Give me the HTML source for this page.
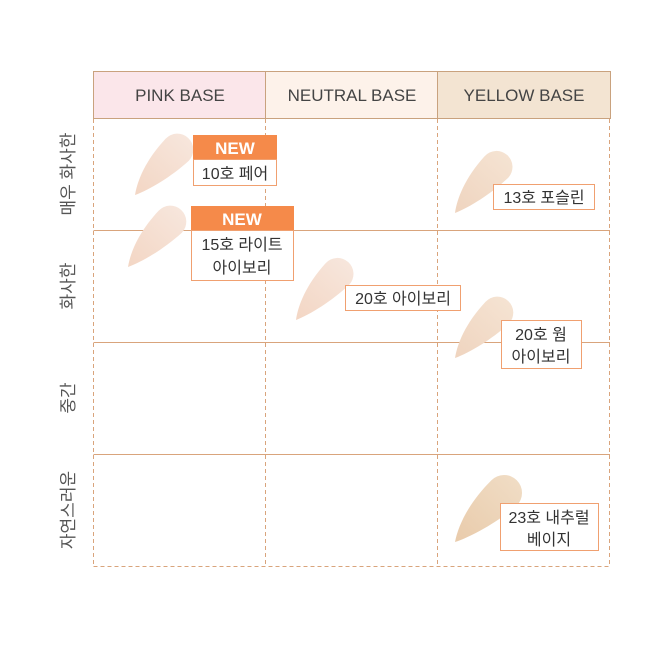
<!DOCTYPE html>
<html><head><meta charset="utf-8"><style>
body{margin:0;background:#fff;}
svg{display:block;font-family:"Liberation Sans","Noto Sans CJK KR",sans-serif;}
</style></head><body>
<svg width="670" height="670" viewBox="0 0 670 670" xmlns="http://www.w3.org/2000/svg">
<defs>
<linearGradient id="g1" x1="0" y1="0" x2="1" y2="0"><stop offset="0" stop-color="#f3d6c4"/><stop offset="1" stop-color="#f7e6dc"/></linearGradient>
<linearGradient id="g2" x1="0" y1="0" x2="1" y2="0"><stop offset="0" stop-color="#efd4bf"/><stop offset="1" stop-color="#f5e3d2"/></linearGradient>
<linearGradient id="g3" x1="0" y1="0" x2="1" y2="0"><stop offset="0" stop-color="#e9cbab"/><stop offset="1" stop-color="#f0dcc4"/></linearGradient>
<path id="sw" d="M0,0 C12,-8 32,-16 62,-16 A16,16 0 0 1 62,16 C38,14 14,7 0,0 Z"/>
</defs>
<rect x="93.5" y="71.5" width="172" height="47" fill="#fbe6ea" stroke="#c9a27e"/>
<rect x="265.5" y="71.5" width="172" height="47" fill="#fdf2ea" stroke="#c9a27e"/>
<rect x="437.5" y="71.5" width="173" height="47" fill="#f3e4d2" stroke="#c9a27e"/>
<g font-size="17" fill="#444" text-anchor="middle">
<text x="180" y="101">PINK BASE</text>
<text x="352" y="101">NEUTRAL BASE</text>
<text x="524" y="101">YELLOW BASE</text>
</g>
<g stroke="#d9a47c" stroke-width="1">
<line x1="93.5" y1="230.5" x2="610" y2="230.5"/>
<line x1="93.5" y1="342.5" x2="610" y2="342.5"/>
<line x1="93.5" y1="454.5" x2="610" y2="454.5"/>
</g>
<g stroke="#d9a47c" stroke-width="1" stroke-dasharray="4,3">
<line x1="93.5" y1="119" x2="93.5" y2="566"/>
<line x1="265.5" y1="119" x2="265.5" y2="566"/>
<line x1="437.5" y1="119" x2="437.5" y2="566"/>
<line x1="609.5" y1="119" x2="609.5" y2="566"/>
<line x1="93.5" y1="566.5" x2="610" y2="566.5"/>
</g>
<g font-size="17" fill="#555" text-anchor="middle">
<text transform="translate(74,174) rotate(-90)">매우 화사한</text>
<text transform="translate(74,286) rotate(-90)">화사한</text>
<text transform="translate(74,398) rotate(-90)">중간</text>
<text transform="translate(74,510) rotate(-90)">자연스러운</text>
</g>
<use href="#sw" fill="url(#g1)" transform="translate(135,195) rotate(-47)"/>
<use href="#sw" fill="url(#g1)" transform="translate(128,267) rotate(-47)"/>
<use href="#sw" fill="url(#g1)" transform="translate(296,320) rotate(-48)"/>
<use href="#sw" fill="url(#g2)" transform="translate(455,213) rotate(-48)"/>
<use href="#sw" fill="url(#g2)" transform="translate(455,358) rotate(-47)"/>
<use href="#sw" fill="url(#g3)" transform="translate(455,542) rotate(-45) scale(1.12)"/>
<g font-size="16" fill="#333" text-anchor="middle">
<rect x="193" y="135" width="84" height="24" fill="#f58a4a"/>
<text x="235" y="154" fill="#fff" font-weight="bold" font-size="17">NEW</text>
<rect x="193.5" y="159.5" width="83" height="26" fill="#fff" stroke="#f0a070"/>
<text x="235" y="179">10호 페어</text>
<rect x="191" y="206" width="103" height="24" fill="#f58a4a"/>
<text x="242" y="225" fill="#fff" font-weight="bold" font-size="17">NEW</text>
<rect x="191.5" y="230.5" width="102" height="50" fill="#fff" stroke="#f0a070"/>
<text x="242" y="250">15호 라이트</text>
<text x="242" y="273">아이보리</text>
<rect x="345.5" y="285.5" width="115" height="25" fill="#fff" stroke="#f0a070"/>
<text x="403" y="304">20호 아이보리</text>
<rect x="493.5" y="184.5" width="101" height="25" fill="#fff" stroke="#f0a070"/>
<text x="544" y="203">13호 포슬린</text>
<rect x="501.5" y="320.5" width="80" height="48" fill="#fff" stroke="#f0a070"/>
<text x="541" y="340">20호 웜</text>
<text x="541" y="362">아이보리</text>
<rect x="500.5" y="503.5" width="98" height="47" fill="#fff" stroke="#f0a070"/>
<text x="549" y="523">23호 내추럴</text>
<text x="549" y="545">베이지</text>
</g>
</svg>
</body></html>
